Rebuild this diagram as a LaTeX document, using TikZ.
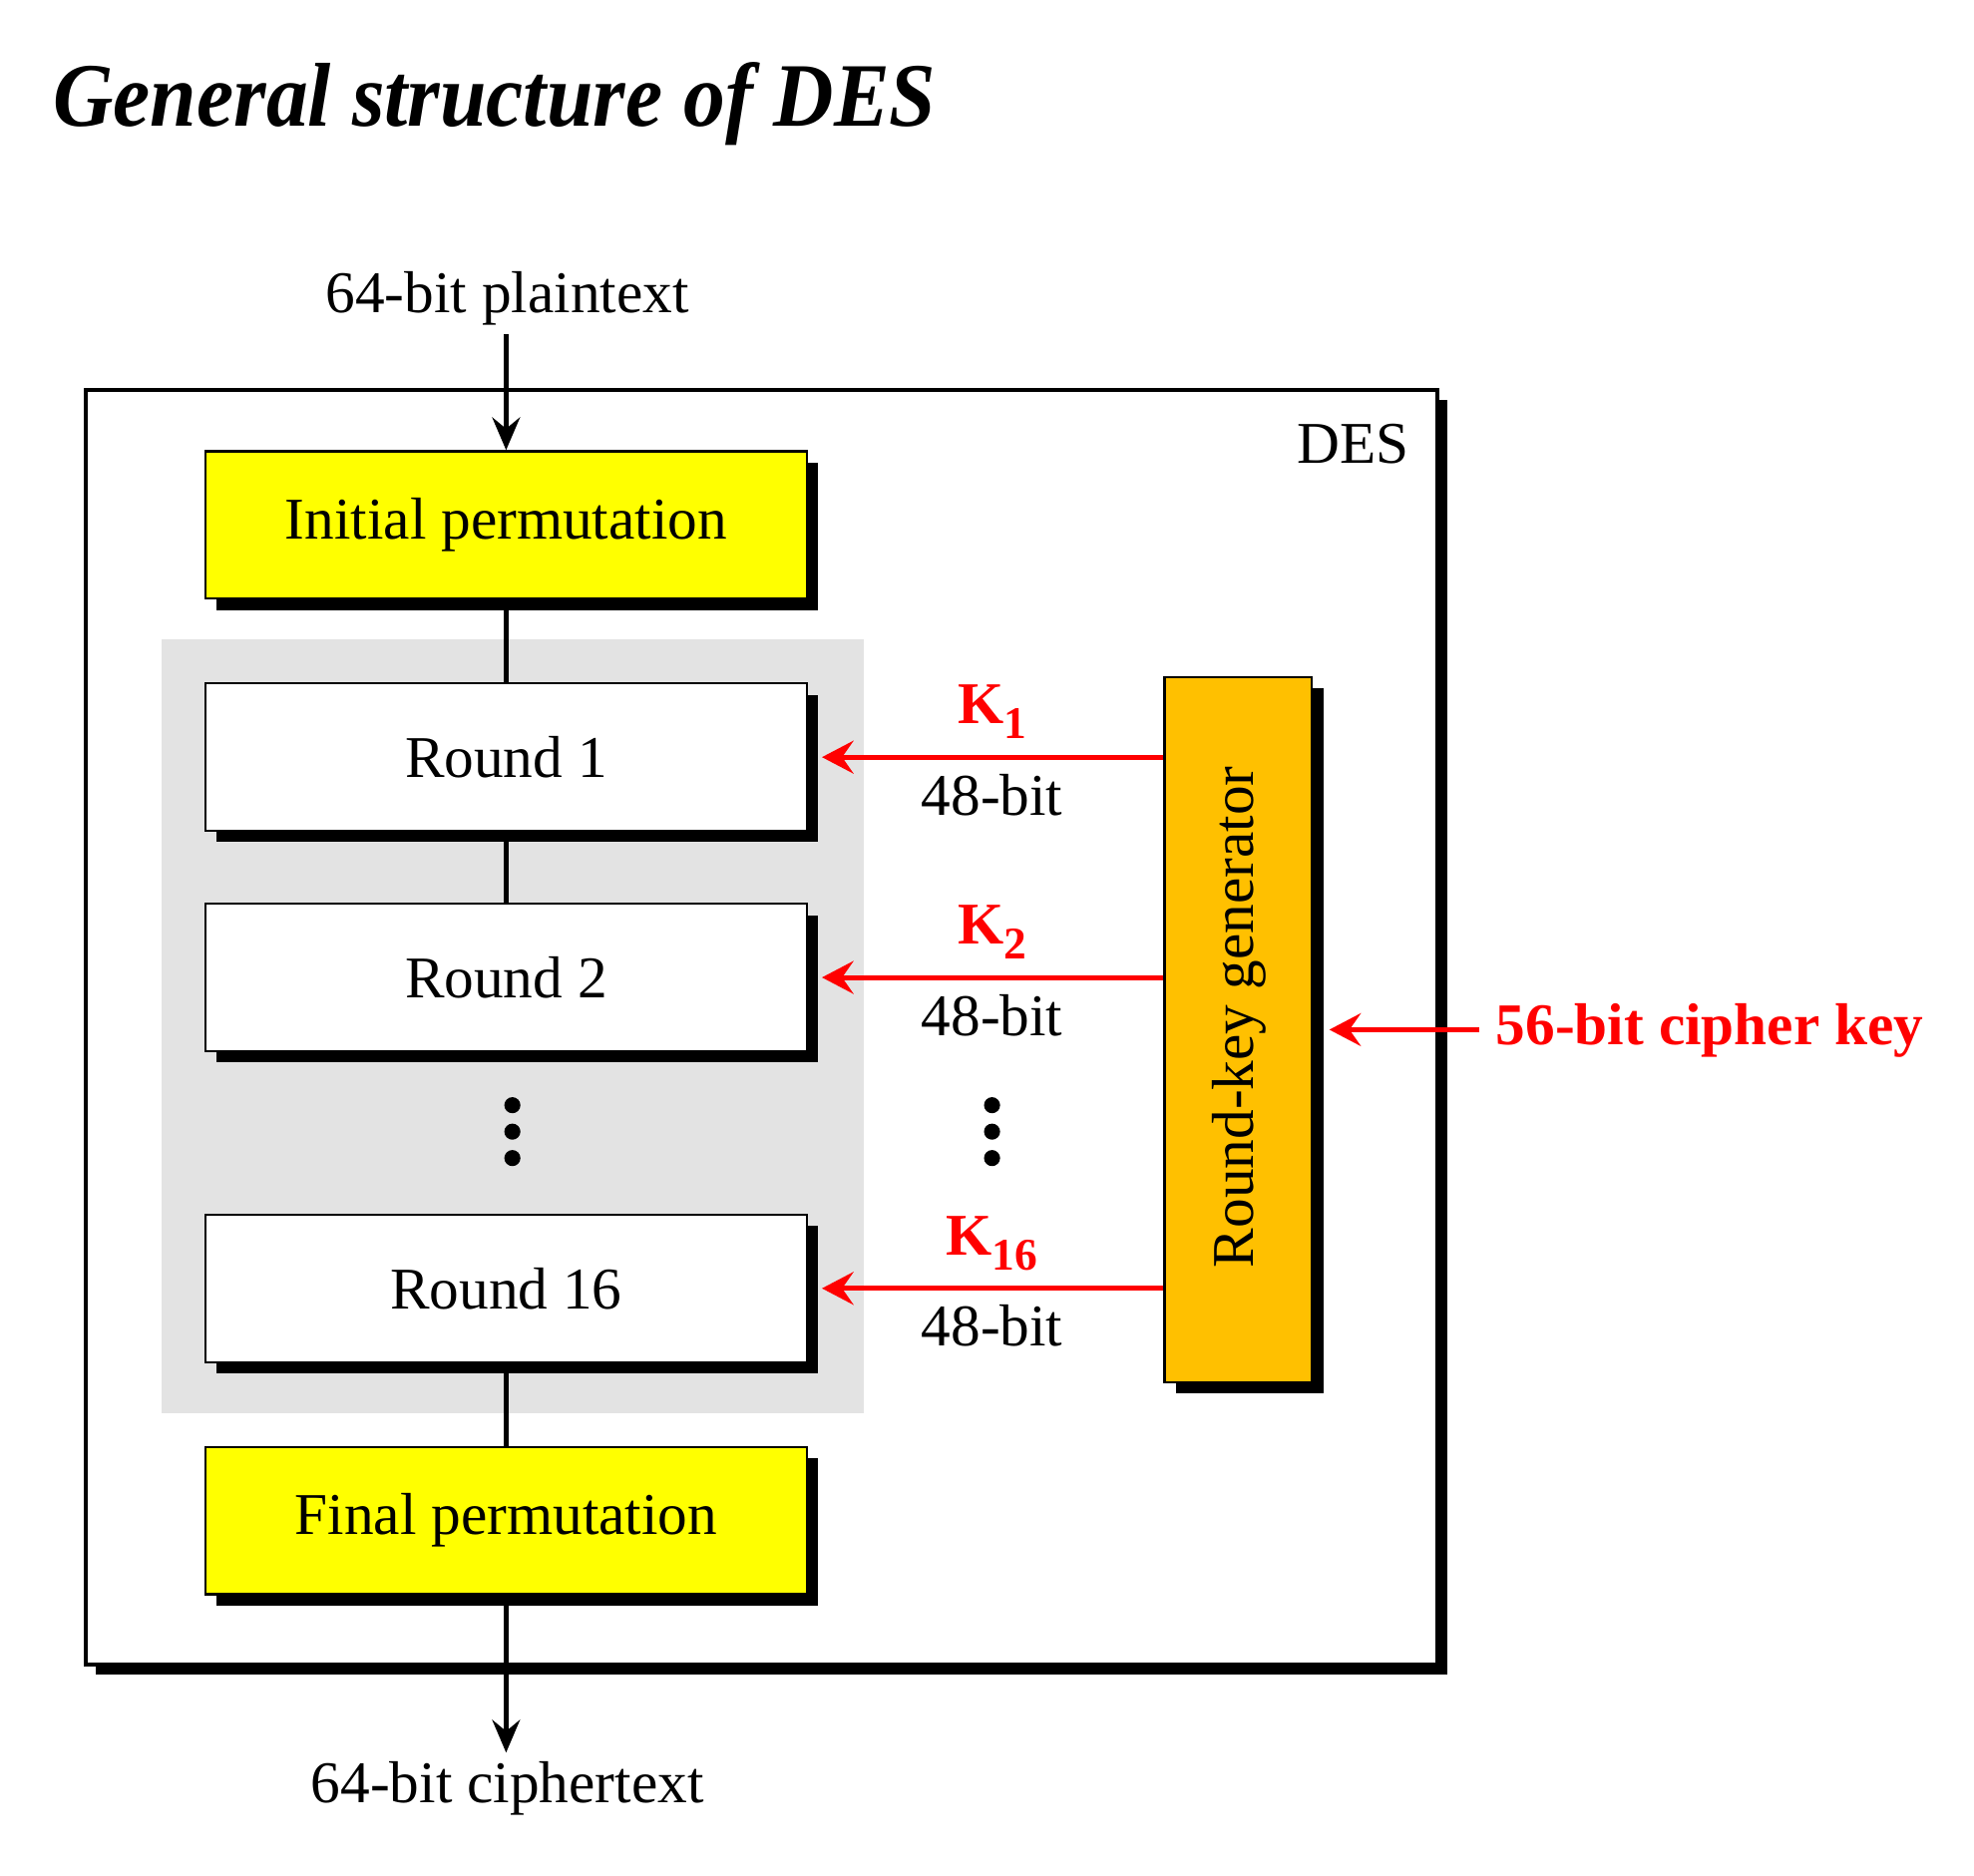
\documentclass[tikz,border=0pt]{standalone}
\usepackage{fontspec}
\setmainfont{Liberation Serif}
\newfontfamily\titlefont[FakeStretch=0.92]{Liberation Serif}
\usetikzlibrary{arrows.meta,shadows}
\definecolor{ipyellow}{HTML}{FFFF00}
\definecolor{rkorange}{HTML}{FFC000}
\definecolor{roundgray}{HTML}{E3E3E3}
\definecolor{keyred}{HTML}{FF0000}
\newcommand\Ksub[1]{K\raisebox{-6pt}{\fontsize{18}{18}\selectfont #1}}
\tikzset{
  txt/.style={font=\fontsize{23.5}{28}\selectfont},
  boxshadow/.style={drop shadow={shadow xshift=4.5pt, shadow yshift=-4.5pt, fill=black, opacity=1}},
  stagebox/.style={draw=black, line width=0.9pt, minimum width=239pt, minimum height=58.5pt,
    inner sep=0pt, txt, boxshadow},
  desbox/.style={draw=black, fill=white, line width=1.6pt, minimum width=537pt, minimum height=506pt,
    inner sep=0pt, drop shadow={shadow xshift=4pt, shadow yshift=-4pt, fill=black, opacity=1}},
  blackarrow/.style={line width=2pt, -{Stealth[length=13pt, width=11pt, inset=4.5pt]}},
  conn/.style={line width=2pt},
  redarrow/.style={draw=keyred, line width=2pt, -{Stealth[length=12.5pt, width=13pt, inset=4.5pt]}},
  klabel/.style={text=keyred, font=\fontsize{23.5}{28}\selectfont\bfseries, inner sep=0pt, anchor=base},
  bitlabel/.style={txt, inner sep=0pt, anchor=base},
  dot/.style={fill=black}
}
\begin{document}
\begin{tikzpicture}[x=0.5pt,y=-0.5pt]
\useasboundingbox (0,0) rectangle (1568,1490);
% title
\node[anchor=base west, inner sep=0pt, font=\fontsize{36}{40}\selectfont\titlefont\bfseries\itshape] (title) at (42,100) {General structure of DES};
% outer DES box
\node[desbox] (des) at (605,816) {};
\node[txt, anchor=base, inner sep=0pt] (deslabel) at (1075,368) {DES};
% gray region of rounds
\fill[roundgray] (128,508) rectangle (686,1123);
% stage boxes
\node[stagebox, fill=ipyellow] (ip) at (402,417) {Initial permutation};
\node[stagebox, fill=white] (r1) at (402,601.5) {Round 1};
\node[stagebox, fill=white] (r2) at (402,776.5) {Round 2};
\node[stagebox, fill=white] (r16) at (402,1023.5) {Round 16};
\node[stagebox, fill=ipyellow] (fp) at (402,1208) {Final permutation};
% round-key generator
\node[stagebox, fill=rkorange, minimum width=58.5pt, minimum height=280pt] (rkg) at (983.5,818) {};
\node[txt, rotate=90, inner sep=0pt] (rkgtext) at (984,808) {Round-key generator};
% input / output
\node[txt, anchor=base] (pt) at (403,248) {64-bit plaintext};
\node[txt, anchor=base] (ct) at (403,1432) {64-bit ciphertext};
\draw[blackarrow] (ip.north |- pt.south) -- (ip.north);
\draw[conn] (ip.south) -- (r1.north);
\draw[conn] (r1.south) -- (r2.north);
\draw[conn] (r16.south) -- (fp.north);
\draw[blackarrow] (fp.south) -- (fp.south |- ct.north);
% dots
\fill[dot] (407,878) circle (3.2pt);
\fill[dot] (407,899) circle (3.2pt);
\fill[dot] (407,920) circle (3.2pt);
\fill[dot] (788,878) circle (3.2pt);
\fill[dot] (788,899) circle (3.2pt);
\fill[dot] (788,920) circle (3.2pt);
% round keys
\draw[redarrow] (rkg.west |- r1.east) -- ([xshift=5.5pt]r1.east);
\draw[redarrow] (rkg.west |- r2.east) -- ([xshift=5.5pt]r2.east);
\draw[redarrow] (rkg.west |- r16.east) -- ([xshift=5.5pt]r16.east);
\node[klabel] (k1) at (788,575) {\Ksub{1}};
\node[klabel] (k2) at (788,750) {\Ksub{2}};
\node[klabel] (k16) at (788,997) {\Ksub{16}};
\node[bitlabel] (b1) at (788,648) {48-bit};
\node[bitlabel] (b2) at (788,823) {48-bit};
\node[bitlabel] (b16) at (788,1069) {48-bit};
% cipher key
\coordinate (kin) at (1175,818);
\draw[redarrow] (kin) -- ([xshift=6.5pt]rkg.east |- kin);
\node[klabel, anchor=base west] (key) at (1188,830) {56-bit cipher key};
\end{tikzpicture}
\end{document}
